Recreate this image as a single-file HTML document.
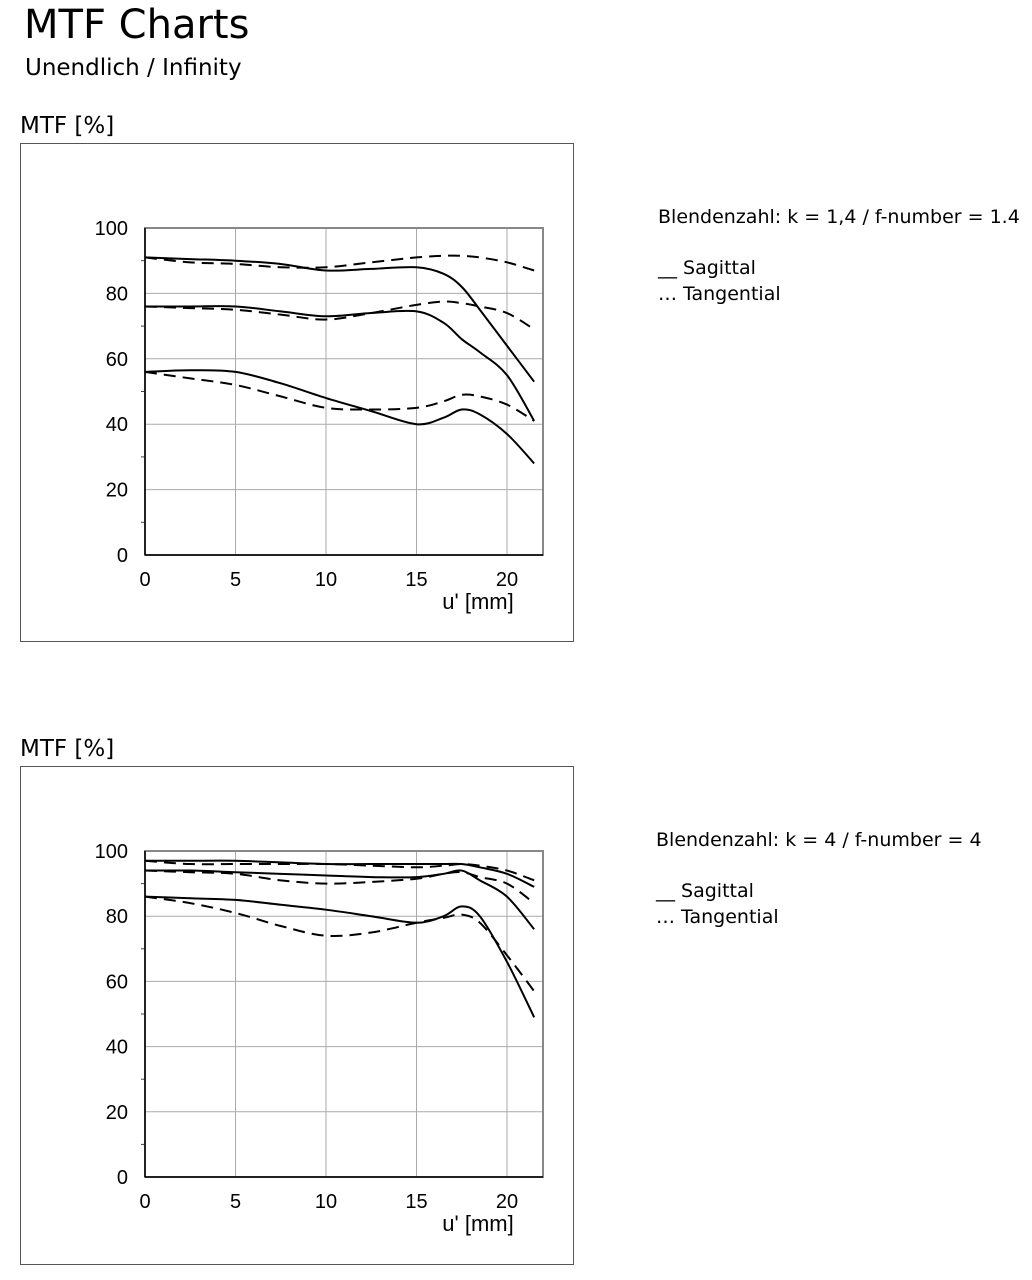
<!DOCTYPE html>
<html><head><meta charset="utf-8"><style>
body{margin:0;width:1032px;height:1280px;background:#fff;font-family:"DejaVu Sans","Liberation Sans",sans-serif;color:#000;position:relative;overflow:hidden}
.t{position:absolute;white-space:nowrap}
</style></head><body>
<div class="t" style="left:24px;top:2px;font-size:40px">MTF Charts</div>
<div class="t" style="left:25px;top:55px;font-size:23px">Unendlich / Infinity</div>
<div class="t" style="left:20px;top:113px;font-size:23px">MTF [%]</div>
<div class="t" style="left:20px;top:736px;font-size:23px">MTF [%]</div>
<div class="t" style="left:658px;top:206px;font-size:19px">Blendenzahl: k = 1,4 / f-number = 1.4</div>
<div class="t" style="left:658px;top:257px;font-size:19px">__ Sagittal</div>
<div class="t" style="left:658px;top:283px;font-size:19px">… Tangential</div>
<div class="t" style="left:656px;top:829px;font-size:19px">Blendenzahl: k = 4 / f-number = 4</div>
<div class="t" style="left:656px;top:880px;font-size:19px">__ Sagittal</div>
<div class="t" style="left:656px;top:906px;font-size:19px">… Tangential</div>
<svg id="s" width="1032" height="1280" style="position:absolute;left:0;top:0"></svg>
<script>
const xs=[0,2.5,5,7.5,10,12.5,15,16.5,17.5,18.5,20,21.5];
const xTicks=[0,5,10,15,20];
const yTicks=[0,20,40,60,80,100];
const c1S1=[91,90.5,90,89,87,87.5,88,86,82,75,64,53];
const c1T1=[91,89.5,89,88,88,89.5,91,91.5,91.5,91,89.5,87];
const c1S2=[76,76,76,74.5,73,74,74.5,71,66,62,55,41];
const c1T2=[76,75.5,75,73.5,72,74,76.5,77.5,77,76,74,69];
const c1S3=[56,56.5,56,52.5,48,44,40,42,44.5,43,37,28];
const c1T3=[56,54,52,48.5,45,44.5,45,47,49,48.5,46,41];
const c2S1=[97,97,97,96.5,96,96,96,96,96,95,93,89];
const c2T1=[97,96,96,96,96,95.5,95,95.5,96,95.5,94,91];
const c2S2=[94,94,93.5,93,92.5,92,92,93,94,91,86,76];
const c2T2=[94,93.5,93,91,90,90.5,91.5,93,93.5,92,90,84];
const c2S3=[86,85.5,85,83.5,82,80,78,80,83,80,66,49];
const c2T3=[86,84,81,77,74,75,78,79.5,80.5,78,68,57];
const NS="http://www.w3.org/2000/svg";
const svg=document.getElementById('s');
function mk(t,a,p){const e=document.createElementNS(NS,t);for(const k in a)e.setAttribute(k,a[k]);(p||svg).appendChild(e);return e;}
function chart(id,frameTop,y100,y0,series){
  const g=mk('g',{});
  
  
  const fr=mk('rect',{x:20.5,y:frameTop+.5,width:553,height:498,fill:'none',stroke:'#555','stroke-width':1},g);
  
  
  const X=v=>145+v*18.1, Y=v=>y0+(y100-y0)*v/100;
  yTicks.forEach(t=>{
    const l=mk('line',{x1:145,x2:543,y1:Y(t),y2:Y(t),stroke:'#aaa'},g);
    
    
    const tx=mk('text',{x:128,y:Y(t)+7,'text-anchor':'end','font-size':20,'font-family':'Liberation Sans, sans-serif'},g);
    tx.textContent=t;
    
    
  });
  for(let t=10;t<100;t+=20){mk('line',{x1:141,x2:145,y1:Y(t),y2:Y(t),stroke:'#444'},g);}
  xTicks.forEach(t=>{
    const l=mk('line',{x1:X(t),x2:X(t),y1:Y(100),y2:Y(0),stroke:'#aaa'},g);
    
    
    const tx=mk('text',{x:X(t),y:y0+31,'text-anchor':'middle','font-size':20,'font-family':'Liberation Sans, sans-serif'},g);
    tx.textContent=t;
    
    
  });
  mk('rect',{x:145,y:Y(100),width:398,height:y0-y100,fill:'none',stroke:'#888','stroke-width':2},g);
  mk('line',{x1:145,x2:145,y1:Y(100),y2:Y(0),stroke:'#000','stroke-width':1.5},g);
  mk('line',{x1:145,x2:543,y1:Y(0),y2:Y(0),stroke:'#000','stroke-width':1.5},g);
  const xt=mk('text',{x:478,y:y0+54,'text-anchor':'middle','font-size':22,'font-family':'Liberation Sans, sans-serif'},g);
  xt.textContent="u' [mm]";
  
  
  series.forEach(([vals,dash,name])=>{
    const p=xs.map((x,i)=>[X(x),Y(vals[i])]);
    let d=`M${p[0][0]},${p[0][1]}`;
    for(let i=0;i<p.length-1;i++){
      const p0=p[Math.max(0,i-1)],p1=p[i],p2=p[i+1],p3=p[Math.min(p.length-1,i+2)];
      d+=` C${p1[0]+(p2[0]-p0[0])/6},${p1[1]+(p2[1]-p0[1])/6} ${p2[0]-(p3[0]-p1[0])/6},${p2[1]-(p3[1]-p1[1])/6} ${p2[0]},${p2[1]}`;
    }
    const path=mk('path',{d:d,fill:'none',stroke:'#000','stroke-width':2,'stroke-dasharray':dash?'12,7':'none'},g);
    
    
  });
}
chart('mtf-chart-f1-4',143,228,555,[[c1S1,0,'sagittal-10lp'],[c1T1,1,'tangential-10lp'],[c1S2,0,'sagittal-20lp'],[c1T2,1,'tangential-20lp'],[c1S3,0,'sagittal-40lp'],[c1T3,1,'tangential-40lp']]);
chart('mtf-chart-f4',766,851,1177,[[c2S1,0,'sagittal-10lp'],[c2T1,1,'tangential-10lp'],[c2S2,0,'sagittal-20lp'],[c2T2,1,'tangential-20lp'],[c2S3,0,'sagittal-40lp'],[c2T3,1,'tangential-40lp']]);
</script>
</body></html>
